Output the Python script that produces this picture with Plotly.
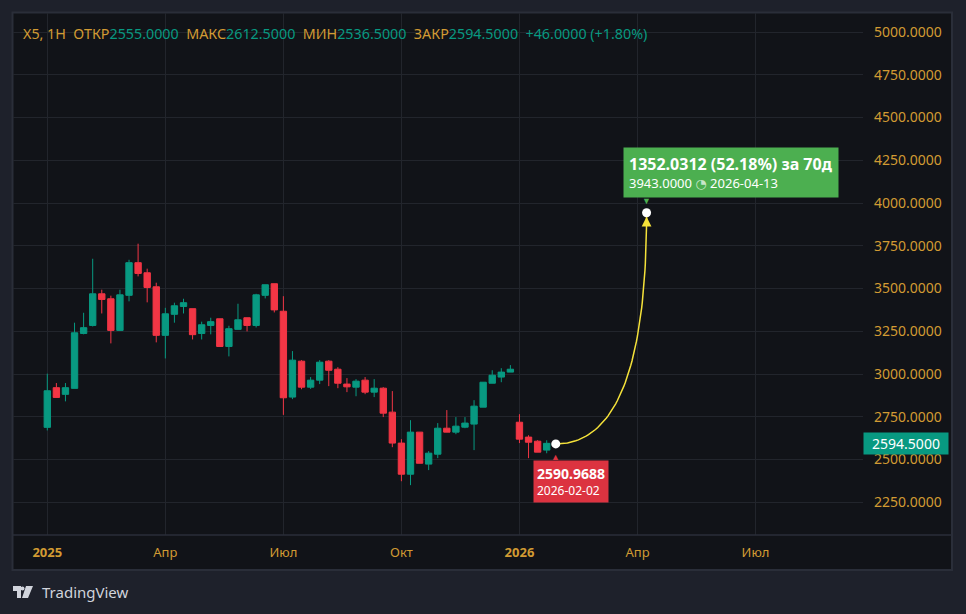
import pandas as pd
import plotly.graph_objects as go

# ---------------- data ----------------
dates = pd.date_range("2025-01-06", periods=56, freq="7D")
opens = [2688, 2920, 2881, 2916, 3237, 3284, 3469, 3440, 3255, 3460, 3651, 3592, 3510, 3226,
         3349, 3395, 3382, 3237, 3284, 3323, 3161, 3261, 3329, 3284, 3460, 3528,
         3367, 2865, 3075, 2923, 2964, 3075, 3028, 2941, 2923, 2964, 2894, 2917, 2777, 2596,
         2414, 2660, 2473, 2531, 2683, 2660, 2689, 2707, 2806, 2946, 2982, 3011,
         2718, 2631, 2607, 2555]
highs = [3002, 2947, 2947, 3300, 3358, 3674, 3493, 3458, 3493, 3668, 3762, 3616, 3534, 3387,
         3417, 3440, 3382, 3306, 3329, 3323, 3282, 3411, 3329, 3469, 3522, 3528,
         3455, 3134, 3081, 2982, 3081, 3081, 3040, 2976, 2970, 2982, 2970, 2923, 2900, 2619,
         2730, 2660, 2549, 2713, 2789, 2748, 2748, 2847, 2952, 3022, 3034, 3052,
         2765, 2642, 2613, 2612.5]
lows = [2670, 2863, 2840, 2916, 3232, 3278, 3354, 3179, 3255, 3425, 3571, 3419, 3185, 3091,
        3300, 3354, 3202, 3202, 3232, 3161, 3103, 3261, 3249, 3272, 3442, 3360,
        2761, 2853, 2911, 2913, 2941, 2929, 2917, 2894, 2870, 2882, 2865, 2748, 2572, 2373,
        2350, 2478, 2438, 2508, 2660, 2648, 2683, 2555, 2806, 2946, 2952, 3011,
        2596, 2508, 2543, 2536.5]
closes = [2902, 2863, 2920, 3241, 3271, 3469, 3436, 3255, 3463, 3651, 3588, 3506, 3226, 3352,
          3399, 3417, 3230, 3288, 3306, 3161, 3265, 3317, 3284, 3463, 3522, 3375,
          2861, 3081, 2923, 2964, 3069, 3022, 2946, 2925, 2958, 2894, 2917, 2771, 2596, 2414,
          2660, 2478, 2537, 2683, 2660, 2695, 2713, 2812, 2952, 2993, 3011, 3028,
          2619, 2601, 2543, 2594.5]

ticker = "X5, 1Н"
last_change = 46.0
last_change_pct = 1.80

proj_start_date = pd.Timestamp("2026-02-02")
proj_start_price = 2590.9688
proj_end_date = pd.Timestamp("2026-04-13")
proj_end_price = 3943.0

tick_dates = ["2025-01-06", "2025-04-07", "2025-07-07", "2025-10-06",
              "2026-01-05", "2026-04-06", "2026-07-06"]
tick_text = ["<b>2025</b>", "Апр", "Июл", "Окт", "<b>2026</b>", "Апр", "Июл"]

# ---------------- style ----------------
W, H = 966, 614
PL, PR, PT, PB = 13, 863, 13, 535       # plot area in pixels
OUTER = "#1e212b"
PANEL = "#111318"
BORDER = "#2a2e39"
GRID = "#22252c"
GOLD = "#d29b33"
TEAL = "#089981"
RED = "#f23645"
FONT = "Noto Sans"

def px_x(px):
    return (px - PL) / (PR - PL)

def px_y(py):
    return (PB - py) / (PB - PT)

# x range: 9.08 px per weekly bar, first bar at x=47.3
px_per_day = 9.08 / 7
x0 = dates[0] - pd.Timedelta(days=(47.3 - PL) / px_per_day)
x1 = x0 + pd.Timedelta(days=(PR - PL) / px_per_day)
# y range: 0.171 px per unit, 3000 at y=374
ppu = 0.171
y_top = 3000 + (374 - PT) / ppu
y_bot = 3000 - (PB - 374) / ppu

fig = go.Figure()

fig.add_trace(go.Candlestick(
    x=dates, open=opens, high=highs, low=lows, close=closes,
    increasing=dict(line=dict(color=TEAL, width=1), fillcolor=TEAL),
    decreasing=dict(line=dict(color=RED, width=1), fillcolor=RED),
    whiskerwidth=0, showlegend=False, hoverinfo="skip",
))

# projection curve (quadratic bezier in data space)
t0 = proj_start_date.value
t1 = proj_end_date.value
cx, cy = t1, proj_start_price
n = 60
bx, by = [], []
for i in range(n + 1):
    t = i / n
    xv = (1 - t) ** 2 * t0 + 2 * (1 - t) * t * cx + t ** 2 * t1
    yv = (1 - t) ** 2 * proj_start_price + 2 * (1 - t) * t * cy + t ** 2 * proj_end_price
    bx.append(pd.Timestamp(int(xv)))
    by.append(yv)
fig.add_trace(go.Scatter(x=bx, y=by, mode="lines", line=dict(color="#f5e23a", width=1.5),
                         showlegend=False, hoverinfo="skip"))

fig.add_trace(go.Scatter(x=[proj_start_date, proj_end_date], y=[proj_start_price, proj_end_price],
                         mode="markers", marker=dict(color="white", size=9, line=dict(width=0)),
                         showlegend=False, hoverinfo="skip"))

shapes = []
# panel
shapes.append(dict(type="rect", xref="paper", yref="paper",
                   x0=px_x(12.5), x1=px_x(952), y0=px_y(570), y1=px_y(12.5),
                   fillcolor=PANEL, line=dict(color=BORDER, width=2), layer="below"))
# separator between plot and time axis
shapes.append(dict(type="line", xref="paper", yref="paper",
                   x0=px_x(13), x1=px_x(952), y0=px_y(535), y1=px_y(535),
                   line=dict(color=BORDER, width=1.5), layer="above"))
# TradingView logo
logo_paths = [
    [(13, 586), (21, 586), (21, 598), (17, 598), (17, 591), (13, 591)],
    [(26, 586), (33, 586), (28, 598), (22, 598)],
]
for poly in logo_paths:
    path = "M " + " L ".join(f"{px_x(a)},{px_y(b)}" for a, b in poly) + " Z"
    shapes.append(dict(type="path", xref="paper", yref="paper", path=path,
                       fillcolor="#d1d4dc", line=dict(width=0)))
shapes.append(dict(type="circle", xref="paper", yref="paper",
                   x0=px_x(20.5), x1=px_x(24.5), y0=px_y(590.5), y1=px_y(586.5),
                   fillcolor="#d1d4dc", line=dict(width=0)))

annotations = []
# header
hdr = (f"<span style='color:{GOLD}'>{ticker}\u00a0\u00a0ОТКР</span>"
       f"<span style='color:{TEAL}'>{opens[-1]:.4f}</span>"
       f"<span style='color:{GOLD}'>\u00a0\u00a0МАКС</span>"
       f"<span style='color:{TEAL}'>{highs[-1]:.4f}</span>"
       f"<span style='color:{GOLD}'>\u00a0\u00a0МИН</span>"
       f"<span style='color:{TEAL}'>{lows[-1]:.4f}</span>"
       f"<span style='color:{GOLD}'>\u00a0\u00a0ЗАКР</span>"
       f"<span style='color:{TEAL}'>{closes[-1]:.4f}\u00a0\u00a0+{last_change:.4f} (+{last_change_pct:.2f}%)</span>")
annotations.append(dict(xref="paper", yref="paper", x=px_x(21), y=px_y(33), text=hdr,
                        showarrow=False, xanchor="left", yanchor="middle",
                        font=dict(family=FONT, size=14.3)))
# last price label on axis
annotations.append(dict(xref="paper", yref="y", x=1, y=closes[-1], text=f"{closes[-1]:.4f}",
                        showarrow=False, xanchor="left", yanchor="middle", align="center",
                        width=80, height=17, bgcolor=TEAL, borderpad=2,
                        font=dict(family=FONT, size=14, color="white")))
# start label (red)
annotations.append(dict(xref="x", yref="y", x=proj_start_date, y=proj_start_price,
                        text=(f"<span style='font-size:14px'><b>{proj_start_price:.4f}</b></span><br>"
                              f"{proj_start_date:%Y-%m-%d}"),
                        showarrow=False, xanchor="left", yanchor="top", align="left",
                        xshift=-23, yshift=-16, bgcolor="#dc3340", borderpad=3,
                        font=dict(family=FONT, size=12, color="white")))
annotations.append(dict(xref="x", yref="y", x=proj_start_date, y=proj_start_price, text="▲",
                        showarrow=False, yshift=-13, font=dict(size=9, color="#dc3340")))
# end label (green)
diff = proj_end_price - proj_start_price
pct = diff / proj_start_price * 100
ndays = (proj_end_date - proj_start_date).days
annotations.append(dict(xref="x", yref="y", x=proj_end_date, y=proj_end_price,
                        text=(f"<span style='font-size:16px'><b>{diff:.4f} ({pct:.2f}%) за {ndays}д</b></span><br>"
                              f"<span style='font-size:13px'>{proj_end_price:.4f} "
                              f"<span style='font-family:DejaVu Sans;color:#c8e6c9'>◔</span> "
                              f"{proj_end_date:%Y-%m-%d}</span>"),
                        showarrow=False, xanchor="left", yanchor="bottom", align="left",
                        xshift=-24, yshift=15, bgcolor="#4caf50", borderpad=5,
                        font=dict(family=FONT, size=14, color="white")))
annotations.append(dict(xref="x", yref="y", x=proj_end_date, y=proj_end_price, text="▼",
                        showarrow=False, yshift=12, font=dict(size=9, color="#4caf50")))
# arrow head
annotations.append(dict(xref="x", yref="y", x=proj_end_date, y=proj_end_price, text="",
                        showarrow=True, ax=0, ay=14, axref="pixel", ayref="pixel",
                        arrowhead=2, arrowsize=1.3, arrowwidth=1.5, arrowcolor="#f5e23a",
                        standoff=4))
# TradingView text
annotations.append(dict(xref="paper", yref="paper", x=px_x(40), y=px_y(592), text="TradingView",
                        showarrow=False, xanchor="left", yanchor="middle",
                        font=dict(family=FONT, size=15, color="#d1d4dc")))

fig.update_layout(
    width=W, height=H,
    margin=dict(l=PL, r=W - PR, t=PT, b=H - PB, pad=0),
    paper_bgcolor=OUTER, plot_bgcolor=PANEL,
    boxgap=0.3, boxgroupgap=0,
    shapes=shapes, annotations=annotations,
    showlegend=False,
    xaxis=dict(type="date", range=[x0, x1], rangeslider=dict(visible=False),
               tickvals=pd.to_datetime(tick_dates), ticktext=tick_text,
               showgrid=True, gridcolor=GRID, gridwidth=1, zeroline=False,
               showline=False, ticks="", ticklabelstandoff=8,
               tickfont=dict(family=FONT, size=13, color=GOLD)),
    yaxis=dict(side="right", range=[y_bot, y_top], dtick=250, tick0=0,
               tickformat=".4f", showgrid=True, gridcolor=GRID, gridwidth=1,
               zeroline=False, showline=False, ticks="", ticklabelstandoff=10,
               tickfont=dict(family=FONT, size=14, color=GOLD)),
)

fig.write_html("out.html")
